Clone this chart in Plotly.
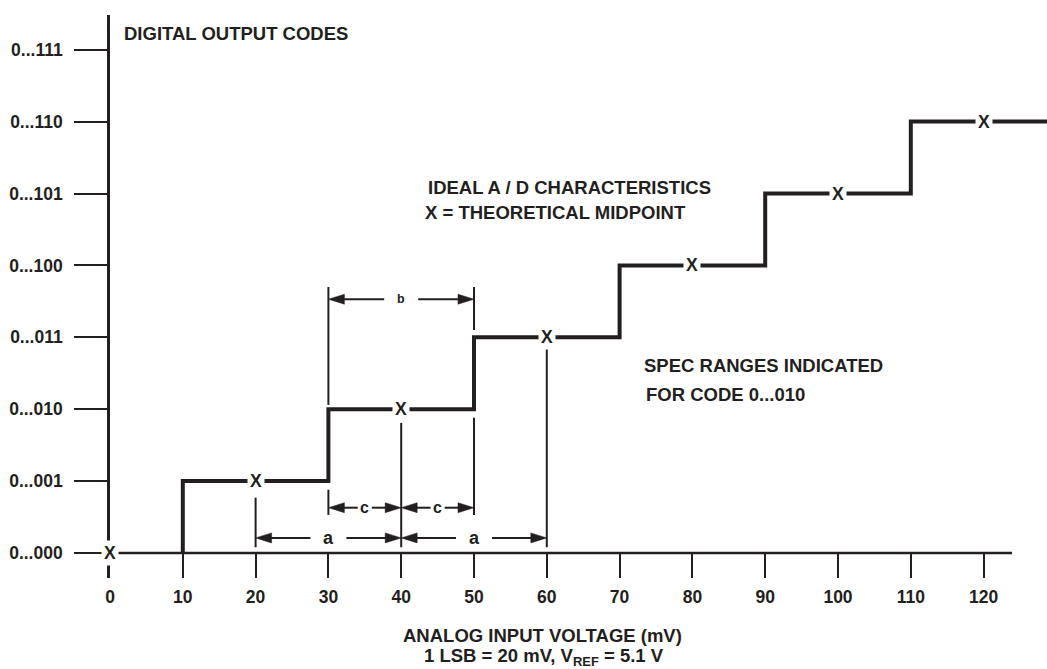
import plotly.graph_objects as go

# ---------------- data ----------------
code_labels = ["0...000", "0...001", "0...010", "0...011", "0...100", "0...101", "0...110", "0...111"]
code_values = [0, 1, 2, 3, 4, 5, 6, 7]
x_ticks = [0, 10, 20, 30, 40, 50, 60, 70, 80, 90, 100, 110, 120]
transitions = [10, 30, 50, 70, 90, 110]          # mV where code steps up
step_levels = [1, 2, 3, 4, 5, 6]                  # code after each transition
midpoints_x = [0, 20, 40, 60, 80, 100, 120]       # theoretical midpoints (mV)
midpoints_code = [0, 1, 2, 3, 4, 5, 6]

# dimension arrows for code 0...010: (label, x_start, x_end, y_level)
dim_labels = ["a", "a", "c", "c", "b"]
dim_x0 = [20, 40, 30, 40, 30]
dim_x1 = [40, 60, 40, 50, 50]
dim_y = [0.21, 0.21, 0.63, 0.63, 3.53]

# extension lines: (x, y_bottom, y_top)
ext_x = [20, 40, 60, 30, 30, 50, 50]
ext_y0 = [0.08, 0.08, 0.08, 0.53, 2.06, 0.53, 3.10]
ext_y1 = [0.77, 1.81, 2.87, 0.88, 3.70, 1.88, 3.70]

# ---------------- layout constants ----------------
W, H = 1047, 669
ML, MR, MT, MB = 110, 0, 15, 91
PLOT_W, PLOT_H = W - ML - MR, H - MT - MB
PXX = 7.28    # px per mV
PXY = 71.9    # px per code
x_max = PLOT_W / PXX
y_min = -25 / PXY
y_max = (553 - MT) / PXY
x_axis_end = (1012 - ML) / PXX

INK = "#231f20"
FONT = "Liberation Sans, Arial, Helvetica, sans-serif"

fig = go.Figure()

# staircase
stair_x = [transitions[0]] + transitions + [x_max]
stair_y = [0] + step_levels + [step_levels[-1]]
fig.add_trace(go.Scatter(x=stair_x, y=stair_y, mode="lines", line_shape="hv",
                         line=dict(color=INK, width=4), hoverinfo="skip", showlegend=False))

shapes = []
# x-axis line
shapes.append(dict(type="line", xref="x", yref="y", x0=0, x1=x_axis_end, y0=0, y1=0,
                   line=dict(color=INK, width=2.6)))
# extension lines
for x, y0, y1 in zip(ext_x, ext_y0, ext_y1):
    shapes.append(dict(type="line", xref="x", yref="y", x0=x, x1=x, y0=y0, y1=y1,
                       line=dict(color=INK, width=2)))

# dimension arrows
gap_px = {"a": 18, "c": 7, "b": 17}
font_px = {"a": 18, "c": 16, "b": 12.5}
head_len = 16 / PXX
head_half = 5 / PXY
annotations = []
for lab, x0, x1, y in zip(dim_labels, dim_x0, dim_x1, dim_y):
    mid = (x0 + x1) / 2
    g = gap_px[lab] / PXX
    shapes.append(dict(type="line", xref="x", yref="y", x0=x0 + head_len * 0.8, x1=mid - g,
                       y0=y, y1=y, line=dict(color=INK, width=2)))
    shapes.append(dict(type="line", xref="x", yref="y", x0=mid + g, x1=x1 - head_len * 0.8,
                       y0=y, y1=y, line=dict(color=INK, width=2)))
    shapes.append(dict(type="path", xref="x", yref="y",
                       path=f"M {x0},{y} L {x0 + head_len},{y + head_half} L {x0 + head_len},{y - head_half} Z",
                       fillcolor=INK, line=dict(color=INK, width=0.5)))
    shapes.append(dict(type="path", xref="x", yref="y",
                       path=f"M {x1},{y} L {x1 - head_len},{y + head_half} L {x1 - head_len},{y - head_half} Z",
                       fillcolor=INK, line=dict(color=INK, width=0.5)))
    annotations.append(dict(x=mid, y=y, xref="x", yref="y", text=f"<b>{lab}</b>", showarrow=False,
                            font=dict(family=FONT, size=font_px[lab], color=INK)))

# midpoint X marks
for xm, ym in zip(midpoints_x, midpoints_code):
    annotations.append(dict(x=xm, y=ym, xref="x", yref="y", text="<b>X</b>", showarrow=False,
                            bgcolor="white", borderpad=2,
                            font=dict(family=FONT, size=17.5, color=INK)))

def txt(x_px, y_px, s, size=18.5, anchor="left"):
    annotations.append(dict(x=(x_px - ML) / PLOT_W, y=(H - MB - y_px) / PLOT_H,
                            xref="paper", yref="paper",
                            text=s, showarrow=False, xanchor=anchor, yanchor="middle",
                            font=dict(family=FONT, size=size, color=INK)))

txt(122, 33, "<b>DIGITAL OUTPUT CODES</b>")
txt(426, 187, "<b>IDEAL A / D CHARACTERISTICS</b>")
txt(423, 213, "<b>X = THEORETICAL MIDPOINT</b>")
txt(642, 365, "<b>SPEC RANGES INDICATED</b>")
txt(644, 394, "<b>FOR CODE 0...010</b>")
txt(542, 635, "<b>ANALOG INPUT VOLTAGE (mV)</b>", anchor="center")
txt(544, 657, "<b>1 LSB = 20 mV, V<sub>REF</sub> = 5.1 V</b>", anchor="center")

fig.update_layout(
    width=W, height=H,
    margin=dict(l=ML, r=MR, t=MT, b=MB, pad=0),
    paper_bgcolor="white", plot_bgcolor="white",
    showlegend=False,
    shapes=shapes, annotations=annotations,
    xaxis=dict(range=[0, x_max], showgrid=False, zeroline=False, showline=False,
               tickmode="array", tickvals=x_ticks, ticktext=[str(v) for v in x_ticks],
               ticks="inside", ticklen=25, tickwidth=2.4, tickcolor=INK,
               ticklabelstandoff=6,
               tickfont=dict(family=FONT, size=17.5, color=INK, weight="bold")),
    yaxis=dict(range=[y_min, y_max], showgrid=False, zeroline=False,
               showline=True, linecolor=INK, linewidth=2.6,
               tickmode="array", tickvals=code_values, ticktext=code_labels,
               ticks="outside", ticklen=33, tickwidth=2.4, tickcolor=INK,
               ticklabelstandoff=8,
               tickfont=dict(family=FONT, size=17.5, color=INK, weight="bold")),
)

fig.write_html("out.html", config={"displayModeBar": False},
               post_script="document.body.style.margin='0';")
